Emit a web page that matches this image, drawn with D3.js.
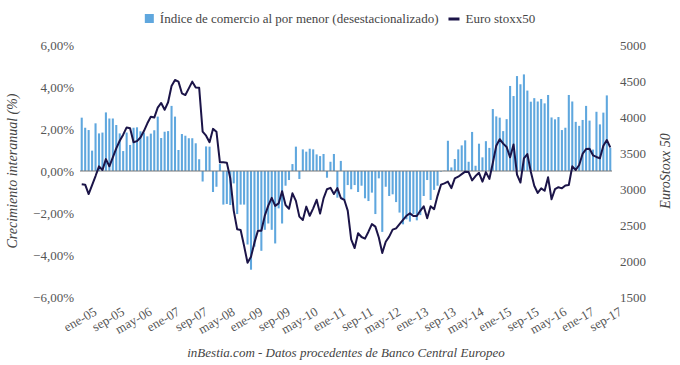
<!DOCTYPE html>
<html>
<head>
<meta charset="utf-8">
<script src="https://cdn.jsdelivr.net/npm/d3@7"></script>
<style>
  body { margin: 0; background: #fff; }
  svg text { font-family: "Liberation Serif", "DejaVu Serif", serif; }
</style>
</head>
<body>
<script>
// Chart size
var svgWidth = 680;
var svgHeight = 365;

var margin = { top: 45, right: 68, bottom: 68, left: 80 };
var chartWidth = svgWidth - margin.left - margin.right;
var chartHeight = svgHeight - margin.top - margin.bottom;

// Months: ene-05 .. oct-17
var monthNames = ["ene", "feb", "mar", "abr", "may", "jun", "jul", "ago", "sep", "oct", "nov", "dic"];
var months = [];
for (var y = 5; y <= 17; y++) {
  for (var m = 0; m < 12; m++) {
    if (y === 17 && m > 9) break;
    months.push(monthNames[m] + "-" + (y < 10 ? "0" + y : y));
  }
}

// Retail trade index, year-on-year % (seasonally adjusted)
var retail = [
  2.54, 2.06, 1.95, 0.97, 2.27, 1.79, 1.83, 2.79, 2.5, 2.5, 2.19, 1.79,
  0.95, 1.83, 1.24, 2.06, 2.08, 1.89, 1.83, 1.65, 1.78, 1.94, 2.59, 1.57,
  1.87, 1.9, 3.1, 2.59, 1.0, 1.76, 1.68, 1.56, 1.56, 1.32, 0.56, -0.5,
  1.17, 1.16, -1.0, -0.75, 0.33, -1.6, -1.57, -1.62, -0.59, -2.05, -1.6, -1.6,
  -3.5, -4.7, -3.6, -2.8, -3.8, -2.8, -2.5, -2.8, -3.45, -1.78, -2.5, -0.7,
  -0.43, 0.33, 1.16, -0.38, 1.03, 0.92, 1.06, 1.03, 0.79, 0.71, 0.81, -0.32,
  0.44, 0.81, -1.27, 0.48, -1.38, -0.67, -0.87, -0.67, -1.0, -0.7, -1.3, -1.43,
  -1.03, -2.05, -0.35, -2.9, -0.75, -1.19, -1.11, -1.48, -1.98, -2.54, -2.3, -2.41,
  -2.05, -2.35, -2.1, -1.19, -0.43, -1.38, -0.9, -0.7, -0.03, 0.02, 1.44, 0.17,
  0.57, 1.03, 1.22, 1.46, 0.44, 1.86, 0.25, 1.3, 0.65, 1.42, 1.1, 2.95,
  2.6, 2.54, 1.9, 2.47, 4.05, 3.57, 4.52, 4.13, 4.6, 3.83, 3.3, 3.47,
  3.31, 3.43, 3.22, 3.62, 2.55, 2.46, 2.57, 1.95, 2.06, 3.62, 3.31, 2.34,
  2.15, 2.43, 3.1, 2.4, 1.02, 2.82, 2.22, 2.78, 3.6, 1.11
];

// Euro Stoxx 50
var stoxx = [
  3065, 3060, 2930, 3055, 3180, 3315, 3264, 3415, 3315, 3440, 3565, 3670,
  3755, 3855, 3843, 3650, 3665, 3715, 3805, 3912, 4004, 3992, 4130, 4195,
  4100, 4205, 4430, 4514, 4491, 4329, 4305, 4398, 4491, 4410, 4405, 3796,
  3740, 3650, 3835, 3796, 3370, 3370, 3366, 3150, 2700, 2440, 2431, 2210,
  1975, 2060, 2255, 2420, 2420, 2630, 2770, 2877, 2765, 2800, 2970, 2778,
  2725, 2940, 2835, 2616, 2569, 2755, 2628, 2731, 2850, 2658, 2870, 2997,
  3016, 2930, 3012, 2875, 2850, 2700, 2300, 2180, 2385, 2333, 2310, 2407,
  2512, 2477, 2327, 2110, 2268, 2338, 2435, 2454, 2512, 2570, 2628, 2662,
  2625, 2625, 2697, 2760, 2593, 2760, 2720, 2905, 3060, 3079, 3102, 3012,
  3148, 3171, 3206, 3241, 3235, 3120, 3180, 3225, 3102, 3235, 3140, 3360,
  3600, 3692, 3630, 3584, 3440, 3618, 3200, 3090, 3426, 3485, 3240, 3045,
  2945, 3009, 2975, 3162, 2858, 2998, 3025, 3009, 3050, 3055, 3315, 3264,
  3333, 3490, 3555, 3560, 3468, 3445, 3426, 3600, 3680, 3579
];

var leftTicks = [-6, -4, -2, 0, 2, 4, 6];
var rightTicks = [1500, 2000, 2500, 3000, 3500, 4000, 4500, 5000];
var xTickLabels = months.filter(function(d, i) { return i % 8 === 0; });

var barColor = "#5fa7de";
var lineColor = "#1b1448";
var fontFamily = "'Liberation Serif', 'DejaVu Serif', serif";

var svg = d3.select("body")
  .append("svg")
  .attr("width", svgWidth)
  .attr("height", svgHeight);

var chartGroup = svg.append("g")
  .attr("transform", `translate(${margin.left}, ${margin.top})`);

// Scales
var xBand = d3.scaleBand()
  .domain(months)
  .range([0, chartWidth])
  .paddingInner(0.4)
  .paddingOuter(0.2);

var yLeft = d3.scaleLinear()
  .domain([-6, 6])
  .range([chartHeight, 0]);

var yRight = d3.scaleLinear()
  .domain([1500, 5000])
  .range([chartHeight, 0]);

// Bars
chartGroup.selectAll(".bar")
  .data(retail)
  .enter()
  .append("rect")
  .attr("class", "bar")
  .attr("x", (d, i) => xBand(months[i]))
  .attr("width", xBand.bandwidth())
  .attr("y", d => yLeft(Math.max(0, d)))
  .attr("height", d => Math.abs(yLeft(d) - yLeft(0)))
  .attr("fill", barColor);

// Zero line
chartGroup.append("line")
  .attr("x1", 0)
  .attr("x2", chartWidth)
  .attr("y1", yLeft(0))
  .attr("y2", yLeft(0))
  .attr("stroke", "#777")
  .attr("stroke-width", 1);

// Euro Stoxx line
var drawLine = d3.line()
  .x((d, i) => xBand(months[i]) + xBand.bandwidth() / 2)
  .y(d => yRight(d));

chartGroup.append("path")
  .attr("d", drawLine(stoxx))
  .attr("fill", "none")
  .attr("stroke", lineColor)
  .attr("stroke-width", 2)
  .attr("stroke-linejoin", "round");

// Axes
var fmtPct = function(v) { return d3.format(".2f")(v).replace(".", ",") + "%"; };

var leftAxis = d3.axisLeft(yLeft)
  .tickValues(leftTicks)
  .tickFormat(fmtPct)
  .tickSize(0)
  .tickPadding(6);

var rightAxis = d3.axisRight(yRight)
  .tickValues(rightTicks)
  .tickFormat(d3.format("d"))
  .tickSize(0)
  .tickPadding(8);

var bottomAxis = d3.axisBottom(xBand)
  .tickValues(xTickLabels)
  .tickSize(0)
  .tickPadding(10);

chartGroup.append("g")
  .call(leftAxis)
  .call(g => g.select(".domain").remove())
  .selectAll("text")
  .style("font-family", fontFamily)
  .style("font-size", "13px")
  .attr("fill", "#555");

chartGroup.append("g")
  .attr("transform", `translate(${chartWidth}, 0)`)
  .call(rightAxis)
  .call(g => g.select(".domain").remove())
  .selectAll("text")
  .style("font-family", fontFamily)
  .style("font-size", "13px")
  .attr("fill", "#555");

chartGroup.append("g")
  .attr("transform", `translate(0, ${chartHeight})`)
  .call(bottomAxis)
  .call(g => g.select(".domain").remove())
  .selectAll("text")
  .style("font-family", fontFamily)
  .style("font-size", "13px")
  .attr("fill", "#555")
  .attr("text-anchor", "end")
  .attr("dx", "0.4em")
  .attr("dy", "1em")
  .attr("transform", "rotate(-30)");

// Axis titles
svg.append("text")
  .attr("transform", `translate(17, ${margin.top + yLeft(0)}) rotate(-90)`)
  .attr("text-anchor", "middle")
  .attr("fill", "#444")
  .style("font-size", "14px")
  .style("font-style", "italic")
  .text("Crecimiento interanual (%)");

svg.append("text")
  .attr("transform", `translate(670, ${margin.top + yLeft(0)}) rotate(-90)`)
  .attr("text-anchor", "middle")
  .attr("fill", "#444")
  .style("font-size", "14px")
  .style("font-style", "italic")
  .text("EuroStoxx 50");

// Caption
svg.append("text")
  .attr("x", 346)
  .attr("y", 357)
  .attr("text-anchor", "middle")
  .attr("fill", "#444")
  .style("font-size", "13px")
  .style("font-style", "italic")
  .text("inBestia.com - Datos procedentes de Banco Central Europeo");

// Legend, centred above the plot
var legend = svg.append("g").attr("transform", "translate(0, 19)");
legend.append("rect")
  .attr("y", -5)
  .attr("width", 9).attr("height", 9)
  .attr("fill", barColor);
var t1 = legend.append("text")
  .attr("y", 4)
  .attr("fill", "#444")
  .style("font-size", "13px")
  .text("Índice de comercio al por menor (desestacionalizado)");
var lineKey = legend.append("rect")
  .attr("y", -1.5)
  .attr("width", 11).attr("height", 3)
  .attr("fill", lineColor);
var t2 = legend.append("text")
  .attr("y", 4)
  .attr("fill", "#444")
  .style("font-size", "13px")
  .text("Euro stoxx50");

var w1 = t1.node().getComputedTextLength();
var w2 = t2.node().getComputedTextLength();
var total = 9 + 6 + w1 + 10 + 11 + 6 + w2;
var x0 = 340 - total / 2;
legend.select("rect").attr("x", x0);
t1.attr("x", x0 + 15);
lineKey.attr("x", x0 + 15 + w1 + 10);
t2.attr("x", x0 + 15 + w1 + 10 + 17);
</script>
</body>
</html>
